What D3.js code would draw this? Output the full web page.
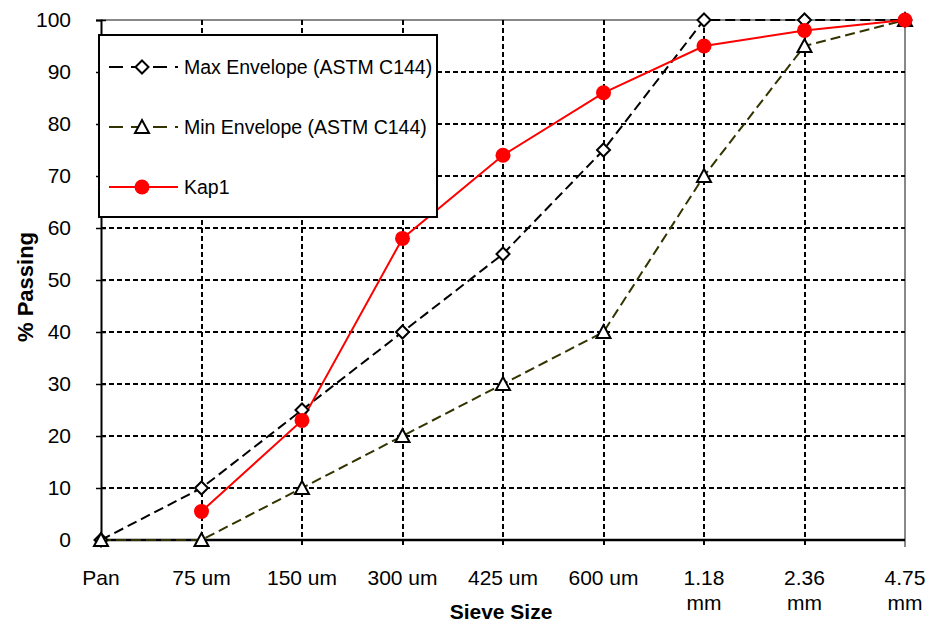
<!DOCTYPE html>
<html>
<head>
<meta charset="utf-8">
<script src="https://cdn.jsdelivr.net/npm/d3@7"></script>
<style>
  body { margin: 0; background: #fff; }
  text { font-family: "Liberation Sans", Arial, sans-serif; }
</style>
</head>
<body>
<div id="chart"></div>
<script>
// sieve sizes (x categories), the mm ones are split on two lines
var sieves = ["Pan", "75 um", "150 um", "300 um", "425 um", "600 um", "1.18 mm", "2.36 mm", "4.75 mm"];
var yTicks = [0, 10, 20, 30, 40, 50, 60, 70, 80, 90, 100];

var maxEnvelope = [0, 10, 25, 40, 55, 75, 100, 100, 100];
var minEnvelope = [0, 0, 10, 20, 30, 40, 70, 95, 100];
// Kap1 has no value at Pan
var kap1 = [null, 5.5, 23, 58, 74, 86, 95, 98, 100];

var width = 930, height = 626;
var margin = { top: 20, right: 25, bottom: 86, left: 101 };

var svg = d3.select("#chart")
    .append("svg")
    .attr("width", width)
    .attr("height", height);

var x_scale = d3.scalePoint()
    .domain(sieves)
    .range([margin.left, width - margin.right]);

var y_scale = d3.scaleLinear()
    .domain([0, 100])
    .range([height - margin.bottom, margin.top]);

var x0 = margin.left, x1 = width - margin.right;
var y0 = height - margin.bottom, y1 = margin.top;

// top + right border (grey)
svg.append("path")
    .attr("d", "M" + x0 + "," + y1 + "H" + x1 + "V" + y0)
    .attr("fill", "none")
    .attr("stroke", "#888")
    .attr("stroke-width", 2);

// horizontal grid
svg.append("g")
    .selectAll("line")
    .data(yTicks.filter(function (d) { return d > 0 && d < 100; }))
    .join("line")
    .attr("x1", x0).attr("x2", x1)
    .attr("y1", function (d) { return Math.round(y_scale(d)); })
    .attr("y2", function (d) { return Math.round(y_scale(d)); })
    .attr("stroke", "#000")
    .attr("stroke-width", 2)
    .attr("stroke-dasharray", "5,3");

// vertical grid (runs below the axis as tick marks)
svg.append("g")
    .selectAll("line")
    .data(sieves.slice(1, sieves.length - 1))
    .join("line")
    .attr("x1", function (d) { return Math.round(x_scale(d)); })
    .attr("x2", function (d) { return Math.round(x_scale(d)); })
    .attr("y1", y1).attr("y2", y0 + 7)
    .attr("stroke", "#000")
    .attr("stroke-width", 2)
    .attr("stroke-dasharray", "5,3");

// last tick at 4.75 mm
svg.append("line")
    .attr("x1", x1).attr("x2", x1)
    .attr("y1", y0).attr("y2", y0 + 7)
    .attr("stroke", "#888")
    .attr("stroke-width", 2);

// y axis
var yAxis = svg.append("g")
    .attr("transform", "translate(" + x0 + ",0)")
    .call(d3.axisLeft(y_scale).tickValues(yTicks).tickSize(5).tickPadding(25));
yAxis.select(".domain").attr("stroke-width", 2);
yAxis.selectAll(".tick line").attr("x1", -5).attr("x2", 5).attr("stroke-width", 1.5);
yAxis.selectAll(".tick text")
    .style("font-size", "21px")
    .attr("fill", "#000");

// x axis line
svg.append("line")
    .attr("x1", x0).attr("x2", x1)
    .attr("y1", y0).attr("y2", y0)
    .attr("stroke", "#000")
    .attr("stroke-width", 2.5);

// x labels
var xLabels = svg.append("g")
    .selectAll("text")
    .data(sieves)
    .join("text")
    .attr("x", function (d) { return x_scale(d); })
    .attr("y", 585)
    .attr("text-anchor", "middle")
    .style("font-size", "21px")
    .attr("fill", "#000");
xLabels.each(function (d) {
    var parts = d.split(" ");
    var t = d3.select(this);
    if (parts[1] === "mm") {
        t.append("tspan").attr("x", x_scale(d)).text(parts[0]);
        t.append("tspan").attr("x", x_scale(d)).attr("dy", 25).text("mm");
    } else {
        t.text(d);
    }
});

// axis titles
svg.append("text")
    .attr("x", 501)
    .attr("y", 619)
    .attr("text-anchor", "middle")
    .style("font-size", "21px")
    .style("font-weight", "bold")
    .text("Sieve Size");

svg.append("text")
    .attr("transform", "translate(33,287) rotate(-90)")
    .attr("text-anchor", "middle")
    .style("font-size", "22px")
    .style("font-weight", "bold")
    .text("% Passing");

// series
var line = d3.line()
    .defined(function (d) { return d.v !== null; })
    .x(function (d) { return x_scale(d.k); })
    .y(function (d) { return y_scale(d.v); });

function pairs(values) {
    return sieves.map(function (k, i) { return { k: k, v: values[i] }; });
}

var series = [
    { name: "Max Envelope (ASTM C144)", values: maxEnvelope, color: "#000", dash: "10,5", marker: "diamond" },
    { name: "Min Envelope (ASTM C144)", values: minEnvelope, color: "#333300", dash: "10,5", marker: "triangle" },
    { name: "Kap1", values: kap1, color: "#ff0000", dash: null, marker: "circle" }
];

function drawMarker(g, s, cx, cy) {
    if (s.marker === "circle") {
        g.append("circle")
            .attr("cx", cx).attr("cy", cy).attr("r", 7.5)
            .attr("fill", "#ff0000");
    } else if (s.marker === "diamond") {
        g.append("path")
            .attr("d", "M0,-6.5L6.5,0L0,6.5L-6.5,0Z")
            .attr("transform", "translate(" + cx + "," + cy + ")")
            .attr("fill", "#fff").attr("stroke", "#000").attr("stroke-width", 2);
    } else {
        g.append("path")
            .attr("d", "M0,-7L7,6L-7,6Z")
            .attr("transform", "translate(" + cx + "," + cy + ")")
            .attr("fill", "#fff").attr("stroke", "#000").attr("stroke-width", 2);
    }
}

series.forEach(function (s) {
    svg.append("path")
        .datum(pairs(s.values))
        .attr("d", line)
        .attr("fill", "none")
        .attr("stroke", s.color)
        .attr("stroke-width", 2)
        .attr("stroke-dasharray", s.dash);
});
series.forEach(function (s) {
    var g = svg.append("g");
    pairs(s.values).forEach(function (d) {
        if (d.v !== null) drawMarker(g, s, x_scale(d.k), y_scale(d.v));
    });
});

// legend
var legend = svg.append("g").attr("transform", "translate(99,35)");
legend.append("rect")
    .attr("width", 338).attr("height", 182)
    .attr("fill", "#fff").attr("stroke", "#000").attr("stroke-width", 2);

series.forEach(function (s, i) {
    var ly = 32 + i * 60;
    legend.append("line")
        .attr("x1", 10).attr("x2", 79)
        .attr("y1", ly).attr("y2", ly)
        .attr("stroke", s.color)
        .attr("stroke-width", 2)
        .attr("stroke-dasharray", s.dash ? "14,8" : null);
    drawMarker(legend, s, 43, ly);
    legend.append("text")
        .attr("x", 85).attr("y", ly + 7)
        .style("font-size", "19.5px")
        .text(s.name);
});
</script>
</body>
</html>
